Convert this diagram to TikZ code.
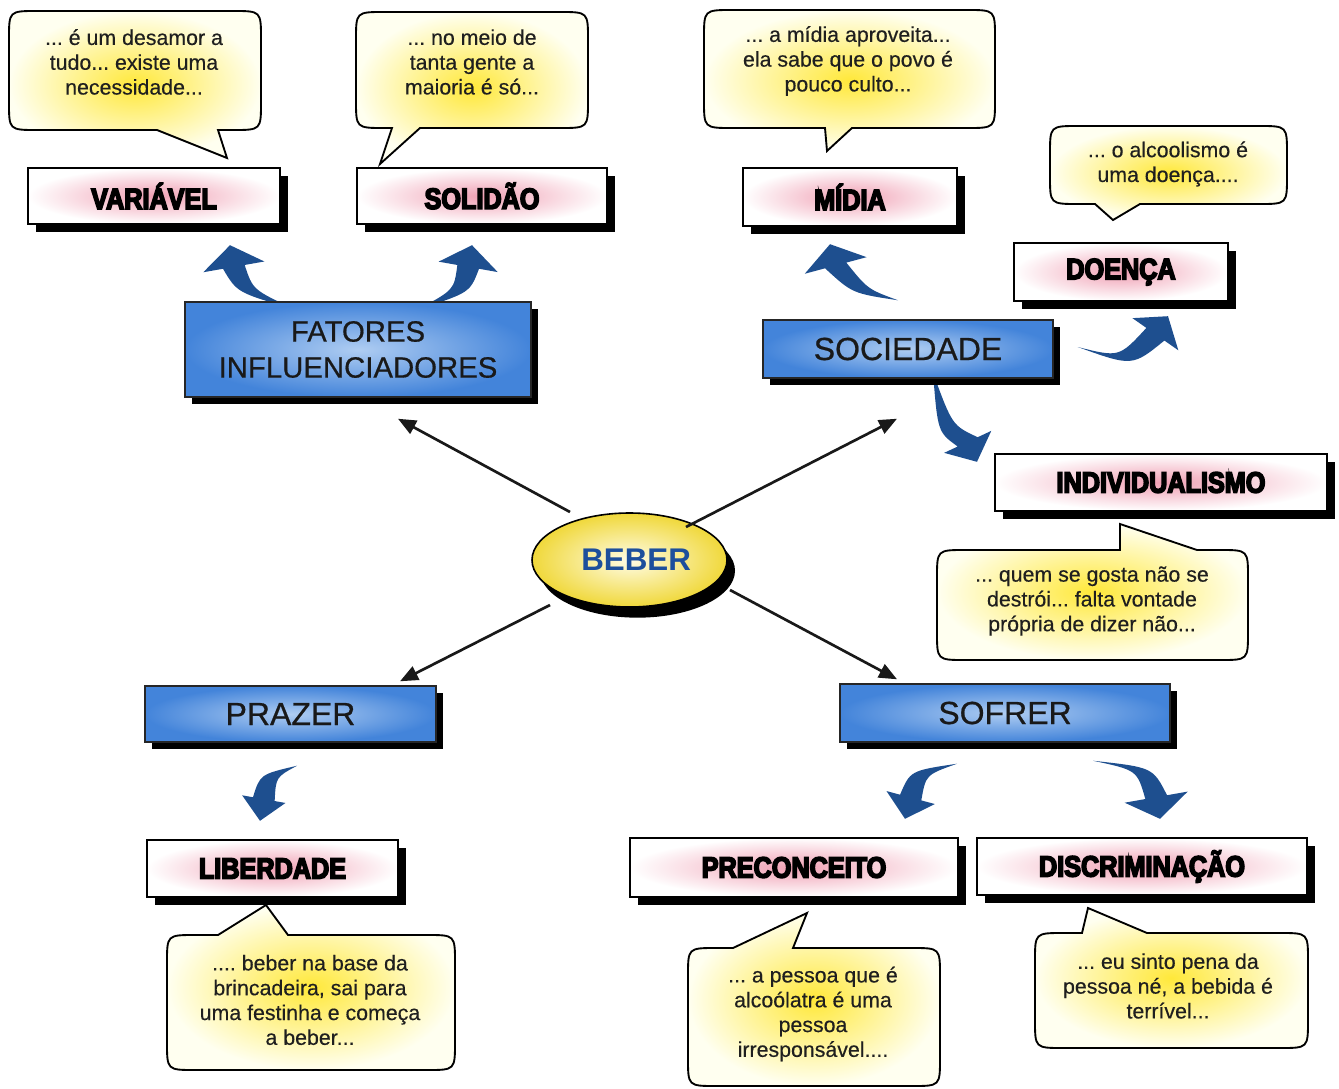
\documentclass[tikz,border=0pt]{standalone}
\usepackage{fontspec}
\setmainfont{Liberation Sans}
\newfontfamily\heavyfont{Liberation Sans}[FakeBold=5.5,FakeStretch=0.86]
\newfontfamily\midfont{Liberation Sans}[FakeBold=0.6]
\newfontfamily\quotefont{Liberation Sans}[FakeBold=0.35]
\usetikzlibrary{shapes.geometric,shadows,arrows.meta,calc}
\pgfdeclarelayer{background}
\pgfsetlayers{background,main}
\definecolor{bubin}{HTML}{FFE83A}
\definecolor{bubout}{HTML}{FFFFF0}
\definecolor{pinkin}{HTML}{F0A0B4}
\definecolor{boxin}{HTML}{AFCDF2}
\definecolor{boxout}{HTML}{4384DA}
\definecolor{arrowblue}{HTML}{1E4F8F}
\definecolor{beberblue}{HTML}{1D4F9C}
\definecolor{ellin}{HTML}{FFFCE6}
\definecolor{ellout}{HTML}{F0D83A}
\def\br{28}
\tikzset{
  boxsize/.style 2 args={minimum width=#1*0.75pt, minimum height=#2*0.75pt},
  blackshadow/.style={drop shadow={shadow xshift=#1, shadow yshift=-#1, fill=black, opacity=1}},
  labelbox/.style={rectangle, draw=black, line width=1.8pt, inner sep=0pt,
    inner color=pinkin, outer color=white, blackshadow=6pt,
    font=\heavyfont\bfseries\fontsize{22}{24}\selectfont},
  bluebox/.style={rectangle, draw=black!85, line width=1.1pt, inner sep=0pt,
    inner color=boxin, outer color=boxout, blackshadow=5.5pt,
    font=\midfont\fontsize{24}{27}\selectfont, align=center, text=black!90},
  btext/.style={align=center, font=\quotefont\fontsize{16}{18.6}\selectfont, text=black!88, inner sep=0pt},
  bubble/.style={draw=black, line width=1.4pt, inner color=bubin, outer color=bubout},
  thinarrow/.style={draw=black!90, line width=2pt, -{Triangle[length=13.5pt,width=11pt]}},
}
% speech bubble, tail on the bottom edge: L T R B base1 tipx tipy base2
\newcommand\bubbot[8]{%
  \shadedraw[bubble] (#1,{#2+\br}) -- (#1,{#4-\br}) .. controls (#1,#4) .. ({#1+\br},#4)
    -- (#5,#4) -- (#6,#7) -- (#8,#4) -- ({#3-\br},#4) .. controls (#3,#4) .. (#3,{#4-\br})
    -- (#3,{#2+\br}) .. controls (#3,#2) .. ({#3-\br},#2) -- ({#1+\br},#2)
    .. controls (#1,#2) .. (#1,{#2+\br}) -- cycle;}
% speech bubble, tail on the top edge
\newcommand\bubtop[8]{%
  \shadedraw[bubble] (#1,{#2+\br}) -- (#1,{#4-\br}) .. controls (#1,#4) .. ({#1+\br},#4)
    -- ({#3-\br},#4) .. controls (#3,#4) .. (#3,{#4-\br})
    -- (#3,{#2+\br}) .. controls (#3,#2) .. ({#3-\br},#2) -- (#8,#2) -- (#6,#7) -- (#5,#2)
    -- ({#1+\br},#2) .. controls (#1,#2) .. (#1,{#2+\br}) -- cycle;}
% curved block arrow: tail, control, tip, direction, head half width
\newcommand\barrow[5]{%
  \fill[arrowblue] (#1) .. controls ($(#2)+({#4+90}:8)$) .. ($(#3)+({#4+180}:22)+({#4+90}:11)$)
    -- ($(#3)+({#4+180}:22)+({#4+90}:#5)$) -- (#3)
    -- ($(#3)+({#4+180}:22)+({#4-90}:#5)$)
    -- ($(#3)+({#4+180}:22)+({#4-90}:11)$) .. controls ($(#2)+({#4-90}:8)$) .. (#1) -- cycle;}

\begin{document}
\frenchspacing
\begin{tikzpicture}[x=0.75pt,y=-0.75pt]
\useasboundingbox (0,0) rectangle (1339,1089);
\begin{pgfonlayer}{background}
  \fill[white] (0,0) rectangle (1339,1089);
\end{pgfonlayer}

% speech bubbles
\bubbot{9}{11}{261}{130}{157}{227}{158}{218}
\bubbot{356}{12}{588}{128}{392}{380}{164}{420}
\bubbot{704}{10}{995}{128}{825}{827}{151}{852}
\bubbot{1050}{126}{1287}{204}{1095}{1113}{220}{1140}
\bubtop{937}{550}{1248}{660}{1120}{1120}{524}{1197}
\bubtop{167}{935}{455}{1070}{218}{266}{905}{288}
\bubtop{688}{948}{940}{1086}{733}{807}{913}{793}
\bubtop{1035}{933}{1308}{1048}{1082}{1088}{908}{1147}

\node[btext] (q1) at (134,62) {... é um desamor a\\tudo... existe uma\\necessidade...};
\node[btext] (q2) at (472,62) {... no meio de\\tanta gente a\\maioria é só...};
\node[btext] (q3) at (848,61) {... a mídia aproveita...\\ela sabe que o povo é\\pouco culto...};
\node[btext] (q4) at (1168,164) {... o alcoolismo é\\uma doença....};
\node[btext] (q5) at (1092,601) {... quem se gosta não se\\destrói... falta vontade\\própria de dizer não...};
\node[btext] (q6) at (310,1000) {.... beber na base da\\brincadeira, sai para\\uma festinha e começa\\a beber...};
\node[btext] (q7) at (813,1014) {... a pessoa que é\\alcoólatra é uma\\pessoa\\irresponsável....};
\node[btext] (q8) at (1168,986) {... eu sinto pena da\\pessoa né, a bebida é\\terrível...};

% label boxes
\node[labelbox, boxsize={252}{56}] (variavel) at (154,196) {VARIÁVEL};
\node[labelbox, boxsize={250}{56}] (solidao) at (482,196) {SOLIDÃO};
\node[labelbox, boxsize={214}{58}] (midia) at (850,197) {MÍDIA};
\node[labelbox, boxsize={214}{58}] (doenca) at (1121,272) {DOENÇA};
\node[labelbox, boxsize={332}{57}] (individualismo) at (1161,482.5) {INDIVIDUALISMO};
\node[labelbox, boxsize={251}{57}] (liberdade) at (272.5,868.5) {LIBERDADE};
\node[labelbox, boxsize={328}{59}] (preconceito) at (794,867.5) {PRECONCEITO};
\node[labelbox, boxsize={330}{57}] (discriminacao) at (1142,866.5) {DISCRIMINAÇÃO};

% blue boxes
\node[bluebox, boxsize={346}{95}, font=\midfont\fontsize{22}{27}\selectfont] (fatores) at (358,349.5) {FATORES\\INFLUENCIADORES};
\node[bluebox, boxsize={290}{58}] (sociedade) at (908,349) {SOCIEDADE};
\node[bluebox, boxsize={291}{56}] (prazer) at (290.5,714) {PRAZER};
\node[bluebox, boxsize={330}{58}] (sofrer) at (1005,713) {SOFRER};

% central ellipse
\node[ellipse, boxsize={195}{94}, inner sep=0pt, draw=black, line width=1.2pt,
  inner color=ellin, outer color=ellout,
  drop shadow={shadow xshift=6pt, shadow yshift=-8pt, fill=black, opacity=1},
  font=\bfseries\fontsize{23.5}{26}\selectfont, text=beberblue] (beber) at (629.5,560) {\hspace*{10pt}BEBER};

% thin connectors
\draw[thinarrow] ($(beber.center)+(-59.5,-48)$) -- ($(fatores.south)+(40,21)$);
\draw[thinarrow] ($(beber.center)+(56.5,-33)$) -- ($(sociedade.south)+(-11,40)$);
\draw[thinarrow] ($(beber.center)+(-79.5,45)$) -- ($(prazer.north)+(109.5,-4)$);
\draw[thinarrow] ($(beber.center)+(100.5,30)$) -- ($(sofrer.north)+(-108,-4)$);

% curved block arrows
\coordinate (t1) at ($(fatores.north)+(-63,8)$);
\coordinate (c1) at ($(fatores.north)+(-113,-10)$);
\coordinate (p1) at ($(variavel.south)+(76,20)$);
\coordinate (t2) at ($(fatores.north)+(60,8)$);
\coordinate (c2) at ($(fatores.north)+(104,-10)$);
\coordinate (p2) at ($(solidao.south)+(-10,20)$);
\coordinate (t3) at ($(sociedade.north)+(-10,-19)$);
\coordinate (c3) at ($(sociedade.north)+(-48,-28)$);
\coordinate (p3) at ($(midia.south)+(-20,17)$);
\coordinate (t4) at ($(sociedade.east)+(24,-2)$);
\coordinate (c4) at ($(sociedade.east)+(72,13)$);
\coordinate (p4) at ($(doenca.south)+(47,14)$);
\coordinate (t5) at ($(sociedade.south)+(25,-6)$);
\coordinate (c5) at ($(sociedade.south)+(37,50)$);
\coordinate (p5) at ($(individualismo.north)+(-184,9)$);
\coordinate (t6) at ($(prazer.south)+(6.5,23)$);
\coordinate (c6) at ($(prazer.south)+(-22.5,33)$);
\coordinate (p6) at ($(liberdade.north)+(-12.5,-18)$);
\coordinate (t7) at ($(sofrer.south)+(-48,21)$);
\coordinate (c7) at ($(sofrer.south)+(-87,30)$);
\coordinate (p7) at ($(preconceito.north)+(111,-18)$);
\coordinate (t8) at ($(sofrer.south)+(88,18)$);
\coordinate (c8) at ($(sofrer.south)+(140,26)$);
\coordinate (p8) at ($(discriminacao.north)+(18,-18)$);
\begin{pgfonlayer}{background}
  \barrow{t1}{c1}{p1}{-100}{31}
  \barrow{t2}{c2}{p2}{-80}{30}
  \barrow{t3}{c3}{p3}{-105}{32}
  \barrow{t4}{c4}{p4}{-55}{28}
  \barrow{t5}{c5}{p5}{65}{26}
  \barrow{t6}{c6}{p6}{100}{22}
  \barrow{t7}{c7}{p7}{105}{25}
  \barrow{t8}{c8}{p8}{80}{32}
\end{pgfonlayer}
\end{tikzpicture}
\end{document}
